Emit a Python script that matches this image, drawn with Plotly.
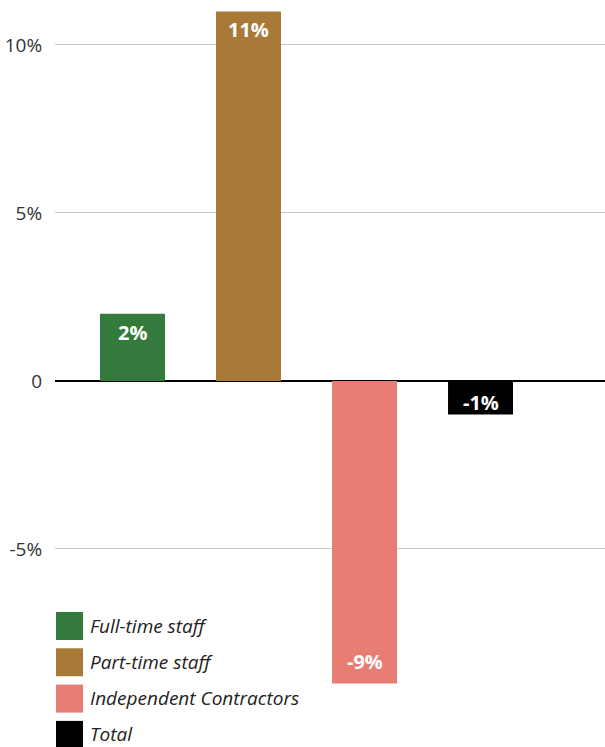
import plotly.graph_objects as go

categories = ["Full-time staff", "Part-time staff", "Independent Contractors", "Total"]
values = [2, 11, -9, -1]
labels = ["2%", "11%", "-9%", "-1%"]
colors = ["#337A3C", "#A97938", "#E87D74", "#000000"]
tick_vals = [-5, 0, 5, 10]
tick_text = ["-5%", "0", "5%", "10%"]

W, H = 605, 747
L = 55
fig = go.Figure()
for c, v, col in zip(categories, values, colors):
    fig.add_trace(go.Bar(
        x=[c], y=[v], name=c, marker=dict(color=col, line=dict(width=0)),
        width=0.56, showlegend=False, hoverinfo="skip",
    ))

annotations = []
# value labels inside bars, anchored at the bar end
for c, v, t in zip(categories, values, labels):
    if v >= 0:
        anchor, shift = "top", -3
    else:
        anchor, shift = "bottom", (6 if v < -2 else -3)
    annotations.append(dict(x=c, y=v, xref="x", yref="y", text="<b>%s</b>" % t,
                            showarrow=False, xanchor="center", yanchor=anchor, yshift=shift,
                            font=dict(family="Open Sans", size=20, color="white")))

# manual legend (layout positions in pixels -> paper coords)
pw = W - L
def px(x):
    return (x - L) / pw
def py(y):
    return 1 - y / H

shapes = []
for i, (c, col) in enumerate(zip(categories, colors)):
    top = 612 + i * 36.3
    shapes.append(dict(type="rect", xref="paper", yref="paper",
                       x0=px(56), x1=px(83), y0=py(top + 28), y1=py(top),
                       fillcolor=col, line=dict(width=0)))
    annotations.append(dict(xref="paper", yref="paper", x=px(88), y=py(top + 13.5),
                            xanchor="left", yanchor="middle", showarrow=False,
                            text="<i>%s</i>" % c,
                            font=dict(family="Open Sans", size=19, color="#222222")))

fig.update_layout(
    width=W, height=H,
    margin=dict(l=L, r=0, t=0, b=0, pad=0),
    paper_bgcolor="white", plot_bgcolor="white",
    barmode="overlay",
    shapes=shapes, annotations=annotations,
    xaxis=dict(type="category", range=[-0.668, 4.073], showticklabels=False,
               showgrid=False, zeroline=False, showline=False, ticks=""),
    yaxis=dict(range=[-10.893, 11.339], tickvals=tick_vals, ticktext=tick_text,
               showgrid=True, gridcolor="#C8C8C8", gridwidth=1,
               zeroline=True, zerolinecolor="#000000", zerolinewidth=2,
               showline=False, ticks="outside", ticklen=8, tickcolor="rgba(0,0,0,0)",
               tickfont=dict(family="Open Sans", size=19, color="#333333")),
    showlegend=False,
)
fig.write_html("out.html", config={"displayModeBar": False},
               post_script="document.body.style.margin='0';document.body.style.overflow='hidden';")
